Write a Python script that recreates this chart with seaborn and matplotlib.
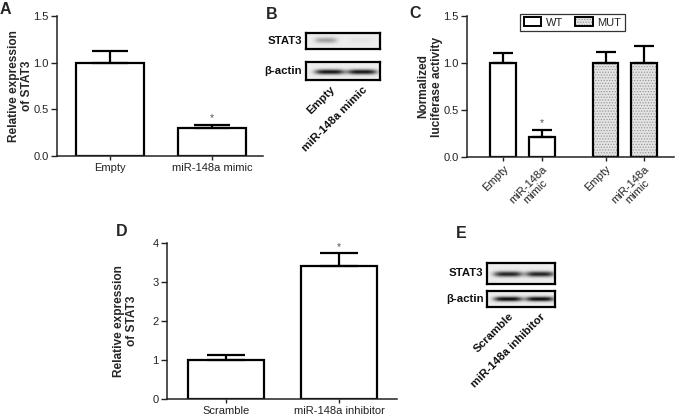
import numpy as np
import pandas as pd
import matplotlib
matplotlib.use("Agg")
import matplotlib.pyplot as plt
import matplotlib.colors as mcolors
from matplotlib.patches import Patch
import seaborn as sns

sns.set_theme(style="ticks")
plt.rcParams["font.family"] = ["Liberation Sans", "DejaVu Sans"]
plt.rcParams["hatch.linewidth"] = 0.6

# ---------------- data ----------------
catA = ["Empty", "miR-148a mimic"]
valA = [1.00, 0.30]
errA = [0.13, 0.035]
sigA = ["", "*"]

catC = ["Empty", "miR-148a\nmimic", "Empty", "miR-148a\nmimic"]
genoC = ["WT", "WT", "MUT", "MUT"]
valC = [1.00, 0.21, 1.00, 1.00]
errC = [0.11, 0.08, 0.12, 0.18]
sigC = ["", "*", "", ""]

catD = ["Scramble", "miR-148a inhibitor"]
valD = [1.00, 3.42]
errD = [0.12, 0.32]
sigD = ["", "*"]

lanesB = ["Empty", "miR-148a mimic"]
stat3B = [0.30, 0.04]
actinB = [0.85, 0.85]

lanesE = ["Scramble", "miR-148a inhibitor"]
stat3E = [0.80, 0.80]
actinE = [0.90, 0.90]

ylabel_rel = "Relative expression\nof STAT3"
ylabel_luc = "Normalized\nluciferase activity"

W, H = 676, 416
fig = plt.figure(figsize=(W / 100, H / 100), dpi=100)


def px_axes(x0, y0, x1, y1):
    return fig.add_axes([x0 / W, 1 - y1 / H, (x1 - x0) / W, (y1 - y0) / H])


LW = 1.6
TICKFS = 8
LABFS = 8.6
BLOTFS = 8.2


def style_axes(ax, yticks, yfmt):
    sns.despine(ax=ax)
    for s in ("left", "bottom"):
        ax.spines[s].set_linewidth(1.1)
        ax.spines[s].set_color("#222222")
    ax.set_yticks(yticks)
    ax.set_yticklabels([yfmt.format(v) for v in yticks], fontsize=TICKFS, color="#222222")
    ax.tick_params(axis="y", length=4, width=1.0, color="#222222", pad=2)
    ax.tick_params(axis="x", length=3, width=1.0, color="#222222", pad=2, labelsize=TICKFS,
                   labelcolor="#222222")
    ax.set_xlabel("")
    ax.set_facecolor("none")


def add_errors(ax, xs, vals, errs, sig, capsize, star_off):
    ax.errorbar(xs, vals, yerr=[np.zeros(len(errs)), errs], fmt="none", ecolor="black",
                elinewidth=LW, capsize=capsize, capthick=LW, zorder=3)
    for x, v, e, s in zip(xs, vals, errs, sig):
        if s:
            ax.annotate(s, (x, v + e), xytext=(0, star_off), textcoords="offset points",
                        ha="center", va="bottom", fontsize=7.5, color="#555555")


# ---------------- Panel A ----------------
axA = px_axes(57, 16, 263, 156)
dfA = pd.DataFrame({"group": catA, "value": valA})
sns.barplot(data=dfA, x="group", y="value", ax=axA, color="white", saturation=1,
            edgecolor="black", linewidth=LW, width=0.67, errorbar=None)
add_errors(axA, np.arange(len(valA)), valA, errA, sigA, 13, 1)
axA.set_ylim(0, 1.5)
axA.set_xlim(-0.525, 1.5)
style_axes(axA, [0, 0.5, 1.0, 1.5], "{:.1f}")
axA.set_ylabel(ylabel_rel, fontsize=LABFS, fontweight="bold", linespacing=1.1)
axA.yaxis.set_label_coords(-0.118, 0.5)

# ---------------- Panel C ----------------
axC = px_axes(467, 16, 674, 157)
posC = [0, 1, 2.66, 3.66]
dfC = pd.DataFrame({"pos": posC, "value": valC, "geno": genoC})
sns.barplot(data=dfC, x="pos", y="value", hue="geno", ax=axC, native_scale=True,
            dodge=False, palette={"WT": "white", "MUT": "#e4e4e4"}, saturation=1,
            edgecolor="black", linewidth=LW, width=0.675, errorbar=None, legend=False)
for p in axC.containers[1]:
    p.set_hatch("......")
    p._hatch_color = mcolors.to_rgba("#9a9a9a")
add_errors(axC, posC, valC, errC, sigC, 7, 1)
axC.set_ylim(0, 1.5)
axC.set_xlim(-0.94, 4.44)
style_axes(axC, [0, 0.5, 1.0, 1.5], "{:.1f}")
axC.set_xticks(posC)
axC.set_xticklabels(catC, rotation=45, ha="right", va="top", rotation_mode="anchor",
                    fontsize=TICKFS, multialignment="center", linespacing=1.0)
axC.set_ylabel(ylabel_luc, fontsize=LABFS, fontweight="bold", linespacing=1.1)
axC.yaxis.set_label_coords(-0.118, 0.5)
hW = Patch(facecolor="white", edgecolor="black", linewidth=1.4, label="WT")
hM = Patch(facecolor="#e4e4e4", edgecolor="black", linewidth=1.4, hatch="......", label="MUT")
hM._hatch_color = mcolors.to_rgba("#9a9a9a")
leg = axC.legend(handles=[hW, hM], ncol=2, loc="upper center", bbox_to_anchor=(0.51, 1.015),
                 fontsize=8, frameon=True, fancybox=False, edgecolor="black",
                 handlelength=1.6, handleheight=0.9, handletextpad=0.4, columnspacing=1.1,
                 borderpad=0.3, borderaxespad=0)
leg.get_frame().set_linewidth(0.9)

# ---------------- Panel D ----------------
axD = px_axes(167, 243, 397, 399)
dfD = pd.DataFrame({"group": catD, "value": valD})
sns.barplot(data=dfD, x="group", y="value", ax=axD, color="white", saturation=1,
            edgecolor="black", linewidth=LW, width=0.67, errorbar=None)
add_errors(axD, np.arange(len(valD)), valD, errD, sigD, 14, 1)
axD.set_ylim(0, 4)
axD.set_xlim(-0.52, 1.51)
style_axes(axD, [0, 1, 2, 3, 4], "{:d}")
axD.set_ylabel(ylabel_rel, fontsize=LABFS, fontweight="bold", linespacing=1.1)
axD.yaxis.set_label_coords(-0.125, 0.5)


# ---------------- Western blots ----------------
def blot(ax, intens, centers, half_w, thick, yc, bg=0.93):
    nx, ny = 240, 60
    xs = np.linspace(0, 1, nx)[None, :]
    ys = np.linspace(0, 1, ny)[:, None]
    img = np.full((ny, nx), bg)
    for c, a in zip(centers, intens):
        prof_x = np.exp(-np.abs((xs - c) / half_w) ** 4)
        prof_y = np.exp(-((ys - yc) / thick) ** 2)
        img = img - a * prof_x * prof_y
    ax.imshow(np.clip(img, 0, 1), cmap="gray", vmin=0, vmax=1, aspect="auto",
              extent=(0, 1, 0, 1), origin="lower", interpolation="bilinear")
    ax.set_xlim(0, 1)
    ax.set_ylim(0, 1)
    ax.set_yticks([])
    ax.set_xticks([])
    for s in ax.spines.values():
        s.set_visible(True)
        s.set_linewidth(1.6)
        s.set_color("black")


def row_label(ax, text):
    ax.text(-0.05, 0.5, text, transform=ax.transAxes, ha="right", va="center",
            fontsize=BLOTFS, fontweight="bold", color="#111111")


lane_c_B = [0.32, 0.76]
axB1 = px_axes(306, 33, 380, 49)
blot(axB1, stat3B, [0.27, 0.74], 0.15, 0.18, 0.55)
row_label(axB1, "STAT3")
axB2 = px_axes(306, 62, 380, 80)
blot(axB2, actinB, lane_c_B, 0.2, 0.14, 0.45)
row_label(axB2, "β-actin")
axB2.set_xticks(lane_c_B)
axB2.set_xticklabels(lanesB, rotation=45, ha="right", va="top", rotation_mode="anchor",
                     fontsize=BLOTFS, fontweight="bold", color="#111111")
axB2.tick_params(axis="x", length=0, pad=3)

lane_c_E = [0.31, 0.78]
axE1 = px_axes(487, 263, 555, 284)
blot(axE1, stat3E, lane_c_E, 0.21, 0.13, 0.47)
row_label(axE1, "STAT3")
axE2 = px_axes(487, 291, 555, 307)
blot(axE2, actinE, lane_c_E, 0.21, 0.15, 0.5)
row_label(axE2, "β-actin")
axE2.set_xticks(lane_c_E)
axE2.set_xticklabels(lanesE, rotation=45, ha="right", va="top", rotation_mode="anchor",
                     fontsize=BLOTFS, fontweight="bold", color="#111111")
axE2.tick_params(axis="x", length=0, pad=3)

# ---------------- panel letters ----------------
for letter, x, y in [("A", 0, 2), ("B", 266, 7), ("C", 409, 6), ("D", 116, 224), ("E", 456, 226)]:
    fig.text(x / W, 1 - y / H, letter, ha="left", va="top", fontsize=11.5, fontweight="bold")

fig.savefig("out.png", dpi=100)
